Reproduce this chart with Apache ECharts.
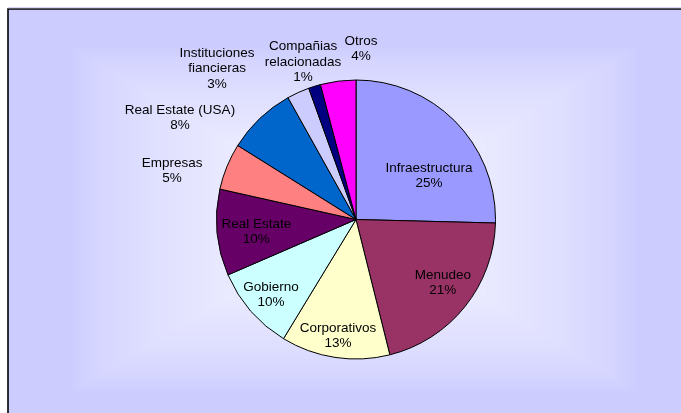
<!DOCTYPE html>
<html>
<head>
<meta charset="utf-8">
<style>
  html, body { margin: 0; padding: 0; background: #ffffff; }
  #chart { width: 681px; height: 413px; }
</style>
<script src="https://cdn.jsdelivr.net/npm/echarts@6/dist/echarts.min.js"></script>
</head>
<body>
<div id="chart"></div>
<script>
// ---- Data ----
const categories = [
  'Infraestructura',
  'Menudeo',
  'Corporativos',
  'Gobierno',
  'Real Estate',
  'Empresas',
  'Real Estate (USA)',
  'Instituciones\nfiancieras',
  'Compañias\nrelacionadas',
  'Otros'
];
const shares = [25.4, 20.7, 12.6, 9.8, 10.0, 5.4, 8.0, 2.6, 1.4, 4.1];

// ---- Styles ----
const sliceColors = ['#9999ff', '#993366', '#ffffcc', '#ccffff', '#660066',
                     '#ff8080', '#0066cc', '#ccccff', '#000080', '#ff00ff'];
// label anchor: [angle clockwise from top (deg), distance as fraction of radius]
const labelPolar = [[59.2, 0.61], [126.1, 0.77], [188.8, 0.845], [228.4, 0.815], [262.9, 0.72],
                    [284.8, 1.364], [300, 1.457], [317.4, 1.471], [341.4, 1.19], [1.7, 1.223]];

const CX = 356, CY = 219.5, R = 139.5;
const total = shares.reduce((a, b) => a + b, 0);

// rectangular "from center" gradient background
const bg = [];
const areaX0 = 8, areaY0 = 9, areaW = 692, areaH = 421;
const gcx = areaX0 + areaW / 2, gcy = areaY0 + areaH / 2;
const N = 140;
function mix(a, b, s) { return Math.round(a + (b - a) * s); }
for (let i = 0; i <= N; i++) {
  const t = 1 - i / N;              // 1 = outer, 0 = center
  let s = (0.82 - t) / 0.82;
  s = Math.max(0, Math.min(1, s));
  s = Math.pow(s, 0.65);
  const col = 'rgb(' + mix(204, 247, s) + ',' + mix(204, 247, s) + ',' + mix(255, 255, s) + ')';
  const hw = areaW / 2 * t, hh = areaH / 2 * t;
  bg.push({
    type: 'rect', silent: true, z: -10 + i * 0.001,
    shape: { x: gcx - hw, y: gcy - hh, width: Math.max(hw * 2, 1), height: Math.max(hh * 2, 1) },
    style: { fill: col }
  });
}
bg.push({
  type: 'rect', silent: true, z: -5,
  shape: { x: areaX0, y: areaY0, width: areaW + 20, height: areaH + 20 },
  style: { fill: 'none', stroke: '#000000', lineWidth: 1.6 }
});
bg.push({
  type: 'line', silent: true, z: -5,
  shape: { x1: areaX0, y1: areaY0 - 1.3, x2: 700, y2: areaY0 - 1.3 },
  style: { stroke: '#ccccff', lineWidth: 1 }
});

const chart = echarts.init(document.getElementById('chart'), null, { renderer: 'canvas' });
chart.setOption({
  animation: false,
  backgroundColor: '#ffffff',
  graphic: { elements: bg },
  series: [{
    type: 'pie',
    center: [CX, CY],
    radius: [0, R],
    startAngle: 90,
    clockwise: true,
    avoidLabelOverlap: false,
    data: categories.map((c, i) => ({
      name: c, value: shares[i],
      itemStyle: { color: sliceColors[i] }
    })),
    itemStyle: { borderColor: '#000000', borderWidth: 1 },
    label: {
      show: true,
      position: 'inside',
      color: '#000000',
      fontFamily: 'Liberation Sans, Arial, sans-serif',
      fontSize: 13.5,
      lineHeight: 15.5,
      align: 'center',
      formatter: p => p.name + '\n' + Math.round(p.value / total * 100) + '%'
    },
    labelLine: { show: false },
    emphasis: { disabled: true },
    labelLayout: function (params) {
      const lp = labelPolar[params.dataIndex];
      const a = lp[0] * Math.PI / 180;
      return {
        x: CX + lp[1] * R * Math.sin(a),
        y: CY - lp[1] * R * Math.cos(a),
        align: 'center',
        verticalAlign: 'middle'
      };
    }
  }]
});
</script>
</body>
</html>
